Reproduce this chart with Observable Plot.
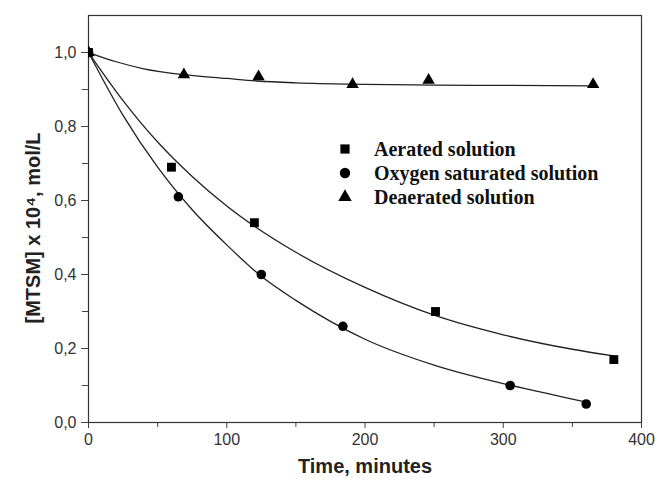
<!DOCTYPE html>
<html><head><meta charset="utf-8">
<script src="https://cdn.jsdelivr.net/npm/d3@7"></script>
<script src="https://cdn.jsdelivr.net/npm/@observablehq/plot@0.6"></script>
<style>body{margin:0;background:#fff}</style>
</head><body><div id="chart"></div>
<script>
// Measured points
const aeratedT = [0, 60, 120, 251, 380];
const aeratedC = [1.0, 0.69, 0.54, 0.30, 0.17];
const oxygenT = [0, 65, 125, 184, 305, 360];
const oxygenC = [1.0, 0.61, 0.40, 0.26, 0.10, 0.05];
const deaeratedT = [0, 69, 123, 191, 246, 365];
const deaeratedC = [1.0, 0.94, 0.935, 0.914, 0.925, 0.914];

// Fitted curves
const aeratedFitT = [0, 25, 50, 75, 100, 150, 200, 250, 300, 350, 380];
const aeratedFitC = [1.0, 0.87, 0.758, 0.665, 0.585, 0.46, 0.365, 0.29, 0.237, 0.198, 0.18];
const oxygenFitT = [0, 25, 50, 75, 100, 125, 150, 200, 250, 300, 330, 360];
const oxygenFitC = [1.0, 0.83, 0.69, 0.575, 0.48, 0.395, 0.33, 0.225, 0.155, 0.105, 0.08, 0.055];
const deaeratedFitT = [0, 20, 40, 69, 100, 122, 150, 200, 250, 300, 365];
const deaeratedFitC = [1.0, 0.975, 0.956, 0.94, 0.93, 0.923, 0.918, 0.914, 0.912, 0.911, 0.91];

const seriesNames = ["Aerated solution", "Oxygen saturated solution", "Deaerated solution"];
const xMajor = [0, 100, 200, 300, 400];
const xMinor = [50, 150, 250, 350];
const yMajor = [0, 0.2, 0.4, 0.6, 0.8, 1.0];
const yMinor = [0.1, 0.3, 0.5, 0.7, 0.9];
const xTitle = "Time, minutes";
const yTitle = "[MTSM] x 10\u2074, mol/L";

const toRows = (T, C, s) => T.map((t, i) => ({t, c: C[i], s}));
const aerated = toRows(aeratedT, aeratedC, seriesNames[0]);
const oxygen = toRows(oxygenT, oxygenC, seriesNames[1]);
const deaerated = toRows(deaeratedT, deaeratedC, seriesNames[2]);
const fits = [
  ...toRows(aeratedFitT, aeratedFitC, seriesNames[0]),
  ...toRows(oxygenFitT, oxygenFitC, seriesNames[1]),
  ...toRows(deaeratedFitT, deaeratedFitC, seriesNames[2])
];

const fmt = d => d.toFixed(1).replace(".", ",");
const tickFont = "'Liberation Sans', Arial, sans-serif";

const chart = Plot.plot({
  width: 662, height: 480,
  marginLeft: 88, marginRight: 21, marginTop: 15, marginBottom: 58,
  x: {domain: [0, 400]},
  y: {domain: [0, 1.1]},
  style: {fontFamily: tickFont, fontSize: "16px", color: "#333", background: "#fff"},
  marks: [
    Plot.axisX(xMinor, {tickSize: 5, tickFormat: () => "", label: null, stroke: "#444"}),
    Plot.axisX(xMajor, {tickSize: 6, tickPadding: 5, label: null, stroke: "#444", fill: "#333", fontSize: 16}),
    Plot.axisY(yMinor, {tickSize: 6, tickFormat: () => "", label: null, stroke: "#444"}),
    Plot.axisY(yMajor, {tickSize: 7, tickPadding: 5, tickFormat: fmt, label: null, stroke: "#444", fill: "#333", fontSize: 16}),
    Plot.frame({stroke: "#333", strokeWidth: 1.2}),
    Plot.line(fits, {x: "t", y: "c", z: "s", curve: "monotone-x", stroke: "#222", strokeWidth: 1.3}),
    Plot.dot(deaerated, {x: "t", y: "c", symbol: () => "triangle", fill: "#000", stroke: "none", r: 4.6, clip: true}),
    Plot.dot(oxygen, {x: "t", y: "c", symbol: () => "circle", fill: "#000", stroke: "none", r: 4.8, clip: true}),
    Plot.dot(aerated, {x: "t", y: "c", symbol: () => "square", fill: "#000", stroke: "none", r: 5, clip: true})
  ]
});

document.getElementById("chart").appendChild(chart);

const svg = d3.select(chart);
// Axis titles
svg.append("text")
  .attr("x", 365).attr("y", 473)
  .attr("text-anchor", "middle")
  .attr("font-family", tickFont).attr("font-weight", "bold").attr("font-size", 20)
  .attr("fill", "#222").text(xTitle);
svg.append("text")
  .attr("transform", "translate(40,228) rotate(-90)")
  .attr("text-anchor", "middle")
  .attr("font-family", tickFont).attr("font-weight", "bold").attr("font-size", 20)
  .attr("fill", "#222").text(yTitle);

// Legend
const symTypes = [d3.symbolSquare, d3.symbolCircle, d3.symbolTriangle];
const symSizes = [Math.PI * 27, Math.PI * 5.2 * 5.2, Math.PI * 5 * 5];
const leg = svg.append("g").attr("text-anchor", "start");
seriesNames.forEach((name, i) => {
  const cy = 149 + i * 24;
  leg.append("path")
    .attr("transform", `translate(345,${cy})`)
    .attr("d", d3.symbol().type(symTypes[i]).size(symSizes[i])())
    .attr("fill", "#000");
  leg.append("text")
    .attr("x", 374).attr("y", cy + 6.5)
    .attr("text-anchor", "start")
    .attr("font-family", "'Liberation Serif', 'Times New Roman', serif")
    .attr("font-weight", "bold").attr("font-size", 20)
    .attr("fill", "#111").text(name);
});
</script>
</body></html>
